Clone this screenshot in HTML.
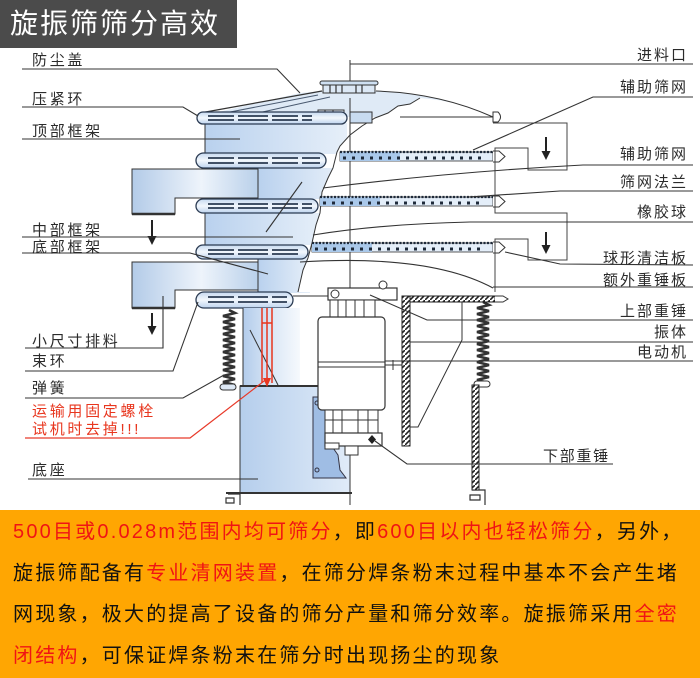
<!DOCTYPE html>
<html><head><meta charset="utf-8"><style>
html,body{margin:0;padding:0;background:#fff;}
svg{display:block;}
</style></head><body>
<svg width="700" height="678" viewBox="0 0 700 678" xmlns="http://www.w3.org/2000/svg" font-family="'Liberation Sans','Noto Sans CJK SC',sans-serif">
<defs>
<linearGradient id="sp" x1="0" x2="1" y1="0" y2="0"><stop offset="0" stop-color="#b3cbe8"/><stop offset="0.55" stop-color="#eef4fb"/><stop offset="1" stop-color="#b9d0ea"/></linearGradient>
<linearGradient id="fr" x1="0" x2="1" y1="0" y2="0"><stop offset="0" stop-color="#b9d1ee"/><stop offset="1" stop-color="#e6eff9"/></linearGradient>
<linearGradient id="rg" x1="0" x2="0" y1="0" y2="1"><stop offset="0" stop-color="#c6d9f0"/><stop offset="0.5" stop-color="#f2f7fc"/><stop offset="1" stop-color="#bdd3ee"/></linearGradient>
<linearGradient id="bs" x1="0" x2="1" y1="0" y2="0"><stop offset="0" stop-color="#b5ceec"/><stop offset="1" stop-color="#e0ebf8"/></linearGradient>
<linearGradient id="tb" x1="0" x2="1" y1="0" y2="0"><stop offset="0" stop-color="#b3cceb"/><stop offset="0.5" stop-color="#dae7f6"/><stop offset="1" stop-color="#f6f9fd"/></linearGradient>
<pattern id="hp" width="5" height="5" patternUnits="userSpaceOnUse"><rect width="5" height="5" fill="#fff"/><path d="M0,5 L5,0" stroke="#222" stroke-width="1.6"/></pattern>
</defs>
<rect width="700" height="678" fill="#fff"/>

<!-- header -->
<rect x="0" y="0" width="237" height="48" fill="#4b4b4b"/>
<text x="10" y="33" font-size="28" fill="#fff" letter-spacing="2" font-family="'Noto Sans CJK SC',sans-serif">旋振筛筛分高效</text>

<!-- central axis -->
<line x1="350" y1="60" x2="350" y2="505" stroke="#333" stroke-width="1"/>

<!-- dome fill -->
<path d="M197,117 L300,93 L323,91 L376,91 Q440,93 493,117 Z" fill="#dfeaf6"/>
<path d="M200,113 L322,91" stroke="#333" stroke-width="1.2" fill="none"/>
<path d="M225,113 L318,95 M258,113 L330,97" stroke="#4a5a70" stroke-width="1" fill="none"/>

<!-- frames -->
<rect x="205" y="123" width="142" height="31" fill="url(#fr)"/>
<line x1="205" y1="123" x2="205" y2="154" stroke="#333" stroke-width="1"/>
<path d="M132,169 L258,169 L258,198 L175,198 L175,214 L132,214 Z" fill="url(#sp)" stroke="#333" stroke-width="1"/>
<line x1="132" y1="214" x2="175" y2="214" stroke="#333" stroke-width="2.5"/>
<rect x="258" y="168" width="82" height="31" fill="url(#fr)"/>
<line x1="258" y1="168" x2="258" y2="199" stroke="#333" stroke-width="1"/>
<rect x="205" y="213" width="117" height="32" fill="url(#fr)"/>
<line x1="205" y1="213" x2="205" y2="245" stroke="#333" stroke-width="1"/>
<path d="M132,262 L258,262 L258,290 L175,290 L175,308 L132,308 Z" fill="url(#sp)" stroke="#333" stroke-width="1"/>
<line x1="132" y1="308" x2="175" y2="308" stroke="#333" stroke-width="2.5"/>
<rect x="258" y="258" width="52" height="35" fill="url(#fr)"/>
<line x1="258" y1="258" x2="258" y2="293" stroke="#333" stroke-width="1"/>

<!-- cutaway interior -->
<path d="M420,98 L410,104 L398,106 L388,113 L375,118 L362,126 L350,135 L340,146 L337,152 L333,168 L328,178 L322,192 L320,213 L316,225 L312,243 L308,258 L303,270 L298,292 L500,292 L500,117 L493,117 Q460,101 420,98 Z" fill="#fff"/>
<path d="M420,98 L410,104 L398,106 L388,113 L375,118 L362,126 L350,135 L340,146 L337,152 L333,168 L328,178 L322,192 L320,213 L316,225 L312,243 L308,258 L303,270 L298,292" fill="none" stroke="#333" stroke-width="1"/>
<line x1="350" y1="98" x2="350" y2="292" stroke="#333" stroke-width="1"/>

<!-- dome outline + cap -->
<path d="M376,91 Q440,93 493,117" stroke="#333" stroke-width="1" fill="none"/>
<line x1="400" y1="117" x2="493" y2="117" stroke="#333" stroke-width="1"/>
<rect x="323" y="84" width="52" height="9" fill="#dce8f5" stroke="#333" stroke-width="1"/>
<rect x="320" y="81" width="58" height="4" rx="2" fill="#cfe0f2" stroke="#333" stroke-width="1"/>
<path d="M330,85 V93 M336,85 V93 M342,85 V93 M356,85 V93 M362,85 V93" stroke="#333" stroke-width="1.2"/>

<!-- fixtures on top ring -->
<rect x="318" y="110" width="26" height="13" fill="#e4edf8" stroke="#333" stroke-width="1"/>
<path d="M325,110 V123 M333,110 V123 M318,116 H344" stroke="#333" stroke-width="1"/>
<rect x="350" y="112" width="22" height="11" fill="#c8dbf0" stroke="#333" stroke-width="1"/>

<!-- screens -->
<g>
<rect x="340" y="152" width="153" height="9" fill="#e4eef9" stroke="#333" stroke-width="0.8"/>
<rect x="340" y="152" width="60" height="9" fill="#a9c8ea"/>
<line x1="340" y1="152" x2="493" y2="152" stroke="#1e2a3a" stroke-width="2.2" stroke-dasharray="2 1.5"/>
<line x1="343" y1="158" x2="485" y2="158" stroke="#1e2a3a" stroke-width="3" stroke-dasharray="3 6"/>
<path d="M493,151 L499,151 L505,156.5 L499,162 L493,162" fill="#fff" stroke="#333" stroke-width="1"/>

<rect x="320" y="197" width="173" height="9" fill="#e4eef9" stroke="#333" stroke-width="0.8"/>
<rect x="320" y="197" width="60" height="9" fill="#a9c8ea"/>
<line x1="320" y1="197" x2="493" y2="197" stroke="#1e2a3a" stroke-width="2.2" stroke-dasharray="2 1.5"/>
<line x1="323" y1="203" x2="485" y2="203" stroke="#1e2a3a" stroke-width="3" stroke-dasharray="3 6"/>
<path d="M493,196 L499,196 L505,201.5 L499,207 L493,207" fill="#fff" stroke="#333" stroke-width="1"/>

<rect x="312" y="243" width="181" height="9" fill="#e4eef9" stroke="#333" stroke-width="0.8"/>
<rect x="312" y="243" width="60" height="9" fill="#a9c8ea"/>
<line x1="312" y1="243" x2="493" y2="243" stroke="#1e2a3a" stroke-width="2.2" stroke-dasharray="2 1.5"/>
<line x1="315" y1="249" x2="485" y2="249" stroke="#1e2a3a" stroke-width="3" stroke-dasharray="3 6"/>
<path d="M493,242 L499,242 L505,247.5 L499,253 L493,253" fill="#fff" stroke="#333" stroke-width="1"/>
</g>

<!-- rings -->
<g stroke="#2b3b52" stroke-width="1.3">
<rect x="197" y="112" width="150" height="12" rx="6" fill="url(#rg)"/>
<rect x="196" y="153" width="130" height="15" rx="7.5" fill="url(#rg)"/>
<rect x="196" y="199" width="122" height="14" rx="7" fill="url(#rg)"/>
<rect x="196" y="245" width="112" height="14" rx="7" fill="url(#rg)"/>
<rect x="196" y="292" width="97" height="16" rx="8" fill="url(#rg)"/>
</g>
<g stroke="#2b3b52" stroke-width="1.7" stroke-dasharray="26 4 30 4">
<line x1="208" y1="116" x2="312" y2="116"/><line x1="208" y1="120" x2="312" y2="120"/>
<line x1="208" y1="158" x2="320" y2="158"/><line x1="208" y1="163" x2="320" y2="163"/>
<line x1="208" y1="204" x2="312" y2="204"/><line x1="208" y1="208" x2="312" y2="208"/>
<line x1="208" y1="250" x2="302" y2="250"/><line x1="208" y1="254" x2="302" y2="254"/>
<line x1="208" y1="297" x2="287" y2="297"/><line x1="208" y1="302" x2="287" y2="302"/>
</g>
<line x1="293" y1="296" x2="330" y2="296" stroke="#333" stroke-width="1"/>

<!-- tube below -->
<path d="M243,308 L300,308 L300,386 L243,386 Z" fill="url(#tb)"/>
<line x1="243" y1="308" x2="243" y2="386" stroke="#333" stroke-width="1"/>
<line x1="250" y1="330" x2="278" y2="385" stroke="#333" stroke-width="1"/>

<!-- base -->
<rect x="240" y="386" width="110" height="107" fill="url(#bs)" stroke="#333" stroke-width="1"/>
<line x1="240" y1="386" x2="318" y2="386" stroke="#333" stroke-width="2"/>
<line x1="226" y1="493" x2="352" y2="493" stroke="#333" stroke-width="2"/>
<path d="M313,397 L326,397 L330,405 L328,420 L333,430 L331,445 L338,455 L340,470 L346,478 L313,478 Z" fill="#9fbde4" stroke="#334" stroke-width="1"/>
<circle cx="317" cy="403" r="2" fill="none" stroke="#334"/><circle cx="317" cy="470" r="2" fill="none" stroke="#334"/>
<!-- feet -->
<path d="M228,494 H240 V505 M226,498 H234 V503 H226 Z" fill="none" stroke="#333" stroke-width="1.2"/>
<path d="M472,490 H485 V505 M470,495 H480 V500 H470 Z" fill="none" stroke="#333" stroke-width="1.2"/>

<!-- red bolts -->
<path d="M262,308 V383 M267,308 V383 M272,308 V383 M262,323 H272" stroke="#e8361e" stroke-width="1.5" fill="none"/>
<polygon points="263,378 271,378 267,387" fill="#e8361e"/>
<polyline points="25,438 190,438 268,378" fill="none" stroke="#e83a2a" stroke-width="1.2"/>

<!-- springs -->
<polyline fill="none" stroke="#333" stroke-width="2.6" points="229,310 235,313 223,316 235,319 223,322 235,325 223,328 235,331 223,334 235,337 223,340 235,343 223,346 235,349 223,352 235,355 223,358 235,361 223,364 235,367 223,370 235,373 223,376 235,379 223,382 235,385"/>
<rect x="220" y="384" width="16" height="6" rx="3" fill="#dde8f5" stroke="#333"/>
<polyline fill="none" stroke="#333" stroke-width="2.6" points="483,302 489,305 477,308 489,311 477,314 489,317 477,320 489,323 477,326 489,329 477,332 489,335 477,338 489,341 477,344 489,347 477,350 489,353 477,356 489,359 477,362 489,365 477,368 489,371 477,374 489,377 477,380 489,383"/>
<rect x="474" y="381" width="16" height="6" rx="3" fill="#fff" stroke="#333"/>

<!-- motor -->
<rect x="328" y="288" width="69" height="12" fill="#fff" stroke="#333" stroke-width="1.2"/>
<circle cx="335" cy="294" r="4" fill="#fff" stroke="#333"/>
<circle cx="383" cy="285" r="4" fill="#fff" stroke="#333"/>
<rect x="330" y="300" width="45" height="17" fill="#fff" stroke="#333" stroke-width="1"/>
<path d="M338,300 V317 M346,300 V317 M355,300 V317 M364,300 V317" stroke="#333"/>
<rect x="318" y="317" width="67" height="93" rx="4" fill="#fff" stroke="#333" stroke-width="1.2"/>
<path d="M318,362 H385 M318,367 H385" stroke="#333" stroke-width="1"/>
<rect x="325" y="410" width="53" height="25" fill="#fff" stroke="#333" stroke-width="1"/>
<path d="M333,410 V435 M342,410 V435 M358,410 V435 M368,410 V435 M325,420 H378" stroke="#333"/>
<rect x="325" y="433" width="57" height="13" fill="#fff" stroke="#333" stroke-width="1.2"/>
<polygon points="372,435 376,439.5 372,444 368,439.5" fill="#222"/>
<rect x="345" y="446" width="13" height="9" fill="#fff" stroke="#333"/>
<rect x="325" y="443" width="14" height="6" fill="#fff" stroke="#333"/>
<path d="M385,365 H402 M393,360 V370" stroke="#333" stroke-width="1"/>

<!-- bracket -->
<rect x="402" y="296" width="93" height="6" fill="url(#hp)" stroke="#222" stroke-width="1"/>
<path d="M495,296 L503,296 L508,299 L503,302 L495,302" fill="#fff" stroke="#333"/>
<rect x="402" y="296" width="8" height="150" fill="url(#hp)" stroke="#222" stroke-width="1"/>
<rect x="472" y="385" width="7" height="105" fill="url(#hp)" stroke="#222" stroke-width="1"/>
<path d="M462,302 L462,340 L418,427 L410,427" fill="none" stroke="#333" stroke-width="1"/>

<!-- right spout outlines -->
<path d="M493,123 L567,123 L567,170 L528,170 L528,148 L495,148 L495,213 L567,213 L567,260 L528,260 L528,239 L495,239 L495,292" fill="none" stroke="#444" stroke-width="1"/>
<path d="M493,112 L498,112 Q503,117 498,122 L493,122 Z" fill="#fff" stroke="#333"/>

<!-- arrows -->
<g stroke="#222" stroke-width="2">
<line x1="152" y1="220" x2="152" y2="237"/><line x1="152" y1="313" x2="152" y2="327"/>
<line x1="546" y1="137" x2="546" y2="152"/><line x1="546" y1="232" x2="546" y2="246"/>
</g>
<g fill="#222">
<polygon points="147.5,236 156.5,236 152,245"/><polygon points="147.5,326 156.5,326 152,335"/>
<polygon points="541.5,151 550.5,151 546,160"/><polygon points="541.5,245 550.5,245 546,254"/>
</g>

<!-- leader lines -->
<g fill="none" stroke="#333" stroke-width="1.1">
<polyline points="22,69 277,69 300,93"/>
<polyline points="22,107 183,107 198,116"/>
<polyline points="22,139 240,139"/>
<polyline points="22,237 293,237"/>
<polyline points="266,232 302,182"/>
<polyline points="22,253 190,253 268,274"/>
<polyline points="25,348 163,348 163,296"/>
<polyline points="25,371 173,371 198,302"/>
<polyline points="25,398 183,398 224,375"/>
<polyline points="28,479 258,479"/>
<polyline points="350,64 693,64"/>
<polyline points="693,97 593,97 473,150"/>
<path d="M693,165 L583,165 Q450,172 323,188"/>
<polyline points="693,191 560,191 468,197"/>
<path d="M693,222 L470,222 Q380,224 313,235"/>
<polyline points="693,265 560,264 505,252"/>
<path d="M300,262 Q430,254 493,288"/>
<polyline points="493,287 693,287"/>
<polyline points="693,320 427,320 370,295"/>
<polyline points="410,342 693,342"/>
<polyline points="385,361 693,361"/>
<polyline points="613,464 407,464 375,441"/>
</g>

<!-- left labels -->
<g font-size="15" fill="#2b2b2b" letter-spacing="2.7">
<text x="32" y="65">防尘盖</text>
<text x="32" y="104">压紧环</text>
<text x="32" y="136">顶部框架</text>
<text x="32" y="235">中部框架</text>
<text x="32" y="252">底部框架</text>
<text x="32" y="346">小尺寸排料</text>
<text x="32" y="366">束环</text>
<text x="32" y="393">弹簧</text>
<text x="32" y="475">底座</text>
</g>
<g font-size="15" fill="#e8361e" letter-spacing="2.7">
<text x="32" y="416">运输用固定螺栓</text>
<text x="32" y="434">试机时去掉!!!</text>
</g>
<!-- right labels -->
<g font-size="15" fill="#2b2b2b" letter-spacing="2" text-anchor="end">
<text x="688" y="60">进料口</text>
<text x="688" y="92">辅助筛网</text>
<text x="688" y="159">辅助筛网</text>
<text x="688" y="187">筛网法兰</text>
<text x="688" y="217">橡胶球</text>
<text x="688" y="263">球形清洁板</text>
<text x="688" y="285">额外重锤板</text>
<text x="688" y="316">上部重锤</text>
<text x="688" y="337">振体</text>
<text x="688" y="357">电动机</text>
</g>
<text x="543" y="461" font-size="15" fill="#2b2b2b" letter-spacing="1.7">下部重锤</text>

<!-- bottom description -->
<rect x="0" y="510" width="700" height="168" fill="#FFA602"/>
<g font-size="20" letter-spacing="2.2" fill="#111">
<text x="13" y="538"><tspan fill="#f01414">500目或0.028m范围内均可筛分</tspan>，即<tspan fill="#f01414">600目以内也轻松筛分</tspan>，另外，</text>
<text x="13" y="579.5">旋振筛配备有<tspan fill="#f01414">专业清网装置</tspan>，在筛分焊条粉末过程中基本不会产生堵</text>
<text x="13" y="620.5">网现象，极大的提高了设备的筛分产量和筛分效率。旋振筛采用<tspan fill="#f01414">全密</tspan></text>
<text x="13" y="662"><tspan fill="#f01414">闭结构</tspan>，可保证焊条粉末在筛分时出现扬尘的现象</text>
</g>
</svg>
</body></html>
